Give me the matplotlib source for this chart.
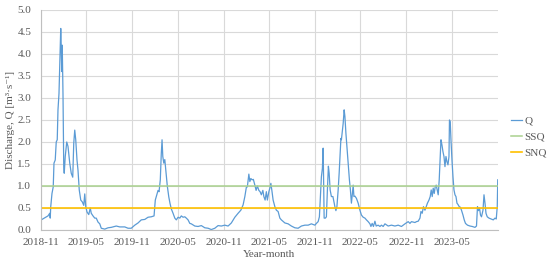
import matplotlib
matplotlib.use('Agg')
import matplotlib.pyplot as plt
import pandas as pd

start = '2018-11-01'
end = '2023-11-01'

days = [1, 28, 35, 37, 39, 44, 49, 52, 57, 61, 65, 68, 72, 76, 79, 81, 83, 85, 88, 91,
        93, 97, 103, 108, 115, 121, 127, 131, 135, 139, 144, 148, 153, 159, 165, 171, 175, 179, 184, 191,
        197, 201, 208, 215, 221, 228, 235, 241, 255, 268, 281, 301, 315, 335,
        348, 361, 375, 388, 401, 415, 428, 441, 452, 457, 463, 468, 472, 477, 481, 484, 487, 491, 495, 500,
        505, 511, 516, 521, 528, 535, 541, 548, 555, 561, 568, 575, 581, 588, 595, 601, 615, 628, 641, 655,
        668, 681, 695,
        708, 721, 735, 748, 761, 775, 788, 799, 808, 815, 821, 825, 831, 835, 839, 844, 849, 855, 860, 865,
        871, 876, 881, 887, 891, 896, 901, 905, 911, 915, 919, 923, 928, 935, 941, 948, 955, 961, 975, 988,
        1001, 1015, 1028, 1041, 1055, 1068,
        1081, 1095, 1101, 1108, 1113, 1117, 1121, 1125, 1128, 1131, 1132, 1137, 1141, 1145, 1149, 1152, 1156,
        1161, 1167, 1171, 1175, 1179, 1183, 1188, 1192, 1196, 1199, 1201, 1204, 1208, 1212, 1215, 1219, 1223,
        1228, 1233, 1237, 1241, 1245, 1248, 1251, 1255, 1261, 1268, 1275, 1281, 1288, 1295, 1301, 1308, 1315,
        1319, 1324, 1329, 1335, 1340, 1348, 1355, 1361, 1368, 1375, 1388, 1401, 1415, 1428,
        1441, 1455, 1468, 1475, 1481, 1495, 1501, 1508, 1515, 1519, 1524, 1529, 1535, 1540, 1545, 1551, 1556,
        1560, 1564, 1568, 1572, 1576, 1580, 1584, 1588, 1592, 1596, 1599, 1603, 1607, 1611, 1615, 1619, 1623,
        1627, 1631, 1633, 1636, 1639, 1643, 1647, 1651, 1655, 1659, 1663, 1667, 1672, 1676, 1681, 1687, 1692,
        1697, 1705, 1715, 1724, 1735, 1741, 1745, 1749, 1753, 1757, 1761, 1767, 1771, 1775, 1779, 1784, 1791,
        1799, 1808, 1815, 1820, 1824, 1826]

q = [0.23, 0.32, 0.38, 0.27, 0.53, 0.83, 0.98, 1.52, 1.59, 2.0, 2.05, 2.73, 3.1, 4.0, 4.58, 4.17, 3.6, 4.2, 3.1, 1.44,
     1.29, 1.67, 2.0, 1.9, 1.52, 1.29, 1.2, 1.97, 2.27, 2.05, 1.59, 1.36, 0.91, 0.68, 0.64, 0.56, 0.82, 0.53, 0.41, 0.35,
     0.5, 0.38, 0.32, 0.27, 0.27, 0.18, 0.14, 0.04, 0.02, 0.05, 0.06, 0.09, 0.07, 0.07,
     0.04, 0.04, 0.11, 0.16, 0.23, 0.24, 0.29, 0.3, 0.32, 0.68, 0.8, 0.9, 0.87, 1.14, 1.74, 2.05, 1.67, 1.52, 1.6, 1.29,
     1.0, 0.75, 0.6, 0.48, 0.38, 0.27, 0.23, 0.29, 0.27, 0.32, 0.29, 0.3, 0.27, 0.23, 0.15, 0.14, 0.09, 0.08, 0.1, 0.05,
     0.04, 0.01, 0.04,
     0.1, 0.09, 0.11, 0.09, 0.16, 0.29, 0.38, 0.45, 0.57, 0.76, 0.97, 0.98, 1.27, 1.1, 1.17, 1.14, 1.15, 1.02, 0.9, 1.0,
     0.9, 0.87, 0.8, 0.9, 0.76, 0.68, 0.87, 0.68, 0.87, 0.95, 1.06, 0.9, 0.68, 0.53, 0.45, 0.42, 0.27, 0.23, 0.16, 0.14,
     0.09, 0.05, 0.04, 0.09, 0.11, 0.11,
     0.14, 0.11, 0.15, 0.19, 0.3, 0.76, 1.21, 1.4, 1.86, 0.68, 0.27, 0.27, 0.3, 0.91, 1.45, 1.29, 0.91,
     0.76, 0.76, 0.64, 0.53, 0.44, 0.53, 0.91, 1.29, 1.74, 2.08, 2.05, 2.2, 2.42, 2.73, 2.58, 2.2, 1.89,
     1.51, 1.14, 0.91, 0.61, 0.83, 1.02, 0.76, 0.77, 0.72, 0.61, 0.45, 0.34, 0.29, 0.27, 0.23, 0.19, 0.14,
     0.08, 0.15, 0.08, 0.2, 0.09, 0.11, 0.08, 0.11, 0.08, 0.14, 0.09, 0.11, 0.09, 0.11,
     0.08, 0.14, 0.19, 0.15, 0.19, 0.17, 0.19, 0.2, 0.27, 0.42, 0.38, 0.53, 0.45, 0.53, 0.61, 0.68, 0.76,
     0.91, 0.76, 0.95, 0.83, 0.98, 1.02, 0.91, 0.8, 1.14, 1.67, 2.05, 1.93, 1.78, 1.67, 1.44, 1.67, 1.55,
     1.48, 1.67, 2.5, 2.46, 2.05, 1.59, 1.21, 0.91, 0.8, 0.76, 0.61, 0.58, 0.53, 0.52, 0.45, 0.34, 0.23,
     0.15, 0.11, 0.09, 0.08, 0.06, 0.09, 0.53, 0.44, 0.5, 0.34, 0.3, 0.45, 0.8, 0.61, 0.38, 0.3, 0.27,
     0.25, 0.23, 0.27, 0.25, 0.53, 1.14]

ssq = 1.0
snq = 0.5
tick_labels = ['2018-11', '2019-05', '2019-11', '2020-05', '2020-11',
               '2021-05', '2021-11', '2022-05', '2022-11', '2023-05']

dates = pd.Timestamp(start) + pd.to_timedelta(days, unit='D')
t0, t1 = pd.Timestamp(start), pd.Timestamp(end)

plt.rcParams['font.family'] = ['Liberation Serif', 'DejaVu Serif']
txt = '#595959'
fs = 8

fig = plt.figure(figsize=(5.5, 2.69), dpi=100)
fig.set_facecolor('w')
ax = fig.add_axes([0.0745, 0.145, 0.8305, 0.818])

ax.plot(dates, q, color='#5B9BD5', lw=0.9, label='Q')
ax.plot([t0, t1], [ssq, ssq], color='#A9D18E', lw=1.1, label='SSQ')
ax.plot([t0, t1], [snq, snq], color='#FFC000', lw=1.2, label='SNQ')

ax.set_xlim(t0, t1)
ax.set_ylim(0, 5)
ax.set_yticks([i * 0.5 for i in range(11)])
ax.yaxis.set_major_formatter(matplotlib.ticker.FormatStrFormatter('%.1f'))
ax.set_xticks(pd.to_datetime(tick_labels))
ax.set_xticklabels(tick_labels)

ax.grid(True, color='#D9D9D9', lw=0.8)
ax.set_axisbelow(True)
for s in ['top', 'right']:
    ax.spines[s].set_visible(False)
for s in ['left', 'bottom']:
    ax.spines[s].set_color('#BFBFBF')
    ax.spines[s].set_linewidth(0.8)
ax.tick_params(length=0, labelsize=fs, labelcolor=txt)
ax.tick_params(axis='y', pad=7)
ax.tick_params(axis='x', pad=6)

ax.set_ylabel('Discharge, Q [m³·s⁻¹]', fontsize=fs, color=txt, labelpad=2)
ax.set_xlabel('Year-month', fontsize=fs, color=txt, labelpad=2)

fig.legend(loc='center left', bbox_to_anchor=(0.9285, 0.491), frameon=False,
           fontsize=fs, labelcolor=txt, handlelength=1.0, handletextpad=0.2,
           labelspacing=0.55, borderaxespad=0, borderpad=0)

fig.savefig('out.png', dpi=100)
